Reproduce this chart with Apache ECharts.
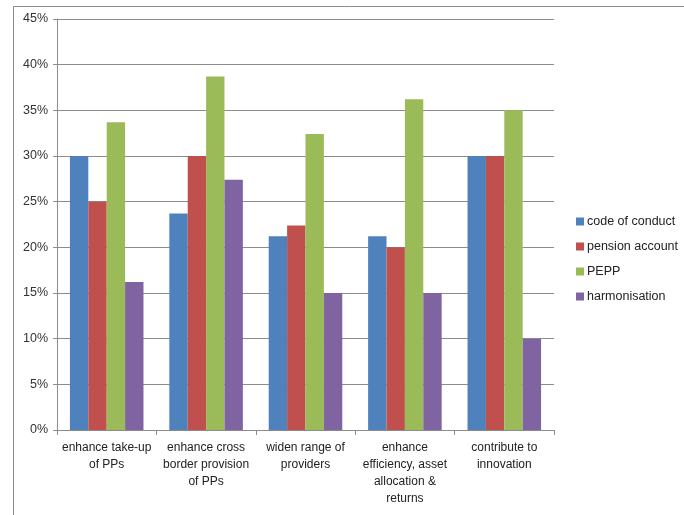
<!DOCTYPE html>
<html>
<head>
<meta charset="utf-8">
<script src="https://cdn.jsdelivr.net/npm/echarts@6/dist/echarts.min.js"></script>
<style>
  html, body { margin: 0; padding: 0; background: #fff; }
  #chart { width: 684px; height: 515px; }
</style>
</head>
<body>
<div id="chart"></div>
<script>
  // categories and series (percent)
  var categories = [
    'enhance take-up\nof PPs',
    'enhance cross\nborder provision\nof PPs',
    'widen range of\nproviders',
    'enhance\nefficiency, asset\nallocation &\nreturns',
    'contribute to\ninnovation'
  ]
  var codeOfConduct = [30, 23.7, 21.2, 21.2, 30]
  var pensionAccount = [25, 30, 22.4, 20, 30]
  var pepp = [33.7, 38.7, 32.4, 36.2, 35]
  var harmonisation = [16.2, 27.4, 15, 15, 10]
  var seriesNames = ['code of conduct', 'pension account', 'PEPP', 'harmonisation']
  var colors = ['#4F81BD', '#C0504D', '#9BBB59', '#8064A2']

  var font = '"Liberation Sans", Arial, sans-serif'
  let chart = echarts.init(document.getElementById('chart'))

  let option = {
    animation: false,
    color: colors,
    textStyle: { fontFamily: font },
    graphic: [{
      type: 'rect',
      left: 11, top: 4,
      shape: { width: 700, height: 509 },
      style: { fill: 'none', stroke: '#8c8c8c', lineWidth: 1 },
      silent: true
    }],
    legend: {
      orient: 'vertical',
      left: 571,
      top: 210,
      icon: 'rect',
      itemWidth: 8,
      itemHeight: 8,
      itemGap: 12,
      textStyle: { fontSize: 12.5, color: '#222', fontFamily: font, padding: [0, 0, 0, -2] },
      data: seriesNames
    },
    grid: {
      left: 57,
      right: 130,
      top: 19,
      bottom: 85
    },
    xAxis: {
      type: 'category',
      data: categories,
      axisLine: { lineStyle: { color: '#8c8c8c' } },
      axisTick: { show: true, length: 5, lineStyle: { color: '#8c8c8c' } },
      axisLabel: { interval: 0, fontSize: 12, color: '#222', lineHeight: 17, margin: 9, fontFamily: font }
    },
    yAxis: {
      type: 'value',
      min: 0,
      max: 45,
      interval: 5,
      axisLine: { show: true, lineStyle: { color: '#8c8c8c' } },
      axisTick: { show: true, length: 4, lineStyle: { color: '#8c8c8c' } },
      splitLine: { lineStyle: { color: '#8c8c8c' } },
      axisLabel: { formatter: '{value}%', fontSize: 12.5, color: '#333', margin: 9, fontFamily: font }
    },
    series: []
  }

  var allData = [codeOfConduct, pensionAccount, pepp, harmonisation]
  allData.forEach((arr, idx) => {
    option.series.push({
      name: seriesNames[idx],
      type: 'bar',
      barGap: '0%',
      barCategoryGap: '26%',
      data: arr
    })
  })

  chart.setOption(option)
</script>
</body>
</html>
